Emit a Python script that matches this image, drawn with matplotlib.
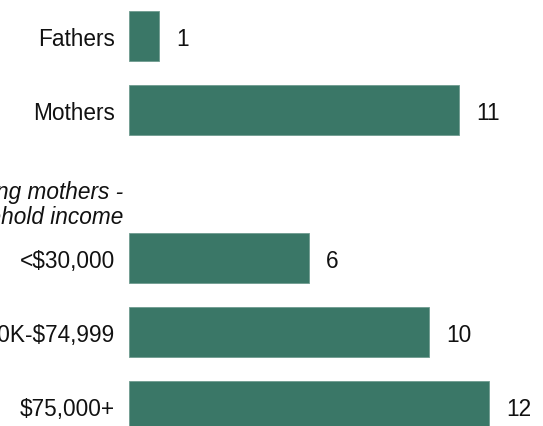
import matplotlib
matplotlib.use("Agg")
import matplotlib.pyplot as plt
from matplotlib.transforms import offset_copy

# rows: two parent bars, a header row, then three income groups
labels = ["Fathers", "Mothers", "", "<$30,000", "$30K-$74,999", "$75,000+"]
values = [1, 11, None, 6, 10, 12]
header = "Among working mothers -\nby household income"

bar_color = "#3a7767"
plt.rcParams["font.family"] = ["Liberation Sans", "DejaVu Sans"]
plt.rcParams["text.parse_math"] = False
fs = 16.3

fig = plt.figure(figsize=(5.43, 4.27), dpi=100)
ax = fig.add_axes([129 / 543, 0, 1 - 129 / 543, 1])

rows = [i for i, v in enumerate(values) if v is not None]
vals = [values[i] for i in rows]
bars = ax.barh(rows, vals, height=0.676, color=bar_color,
               edgecolor="#6f9c90", linewidth=0.6)

for b, v in zip(bars, vals):
    ax.annotate(str(v), (b.get_width(), b.get_y() + b.get_height() / 2),
                xytext=(12.5, -1.5), textcoords="offset points",
                va="center", ha="left", fontsize=fs, color="#111111")

ax.set_xlim(0, 13.8)
ax.set_ylim(5.27, -0.5)
ax.set_yticks(rows)
ax.set_yticklabels([labels[i] for i in rows], fontsize=fs, color="#111111")
ax.tick_params(axis="y", length=0, pad=10)
ax.set_xticks([])
for s in ax.spines.values():
    s.set_visible(False)

# italic header sitting in the empty row, right aligned a little past the labels
tr = offset_copy(ax.get_yaxis_transform(), fig=fig, x=-6, y=0, units="dots")
ax.text(0, 2.27, header, transform=tr, ha="right", va="center",
        fontsize=fs, style="italic", color="#111111", linespacing=1.1)

fig.savefig("out.png", dpi=100)
